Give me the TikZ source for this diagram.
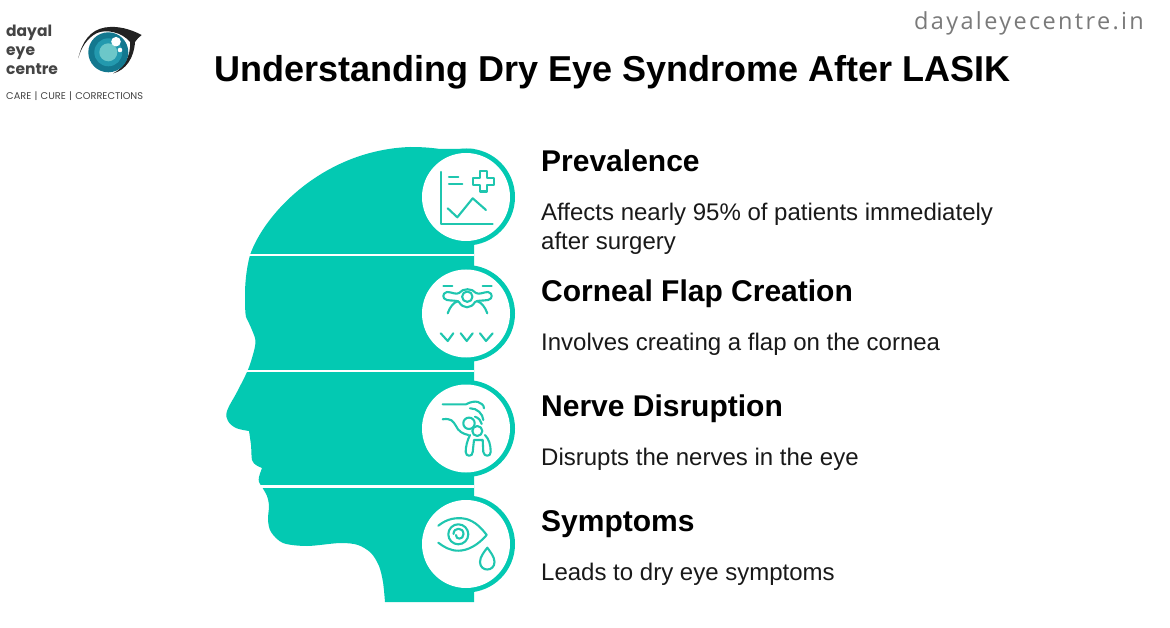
\documentclass[tikz,border=0pt]{standalone}
\usepackage{fontspec}
\setmainfont{Liberation Sans}
\newfontfamily\logofont{Poppins}
\newfontfamily\urlfont[LetterSpace=10]{Open Sans}
\definecolor{teal1}{HTML}{03C9B2}
\definecolor{iconc}{HTML}{1FC6AF}
\definecolor{urlgray}{HTML}{7A7A7A}
\definecolor{logogray}{HTML}{444444}
\definecolor{irisa}{HTML}{13788F}
\definecolor{irisb}{HTML}{2399AE}
\definecolor{irisc}{HTML}{6CC7C9}
\definecolor{lidc}{HTML}{222222}
\tikzset{
  txt/.style={inner sep=0pt,anchor=base west,align=left},
  titletxt/.style={txt,font=\fontsize{36}{40}\selectfont\bfseries,text=black},
  headtxt/.style={txt,font=\fontsize{30}{32}\selectfont\bfseries,text=black},
  bodytxt/.style={txt,font=\fontsize{24}{29}\selectfont,text=black!90},
  logotxt/.style={txt,font=\fontsize{15.5}{18}\logofont\selectfont\bfseries,text=logogray},
  ring/.style={circle,fill=teal1,minimum size=97pt,inner sep=0pt,draw=none},
  disc/.style={circle,fill=white,minimum size=88pt,inner sep=0pt,draw=none},
  ic/.style={draw=iconc,line width=2.1pt,line cap=round,line join=round},
  cut/.style={draw=white,line width=2.6pt}
}
\begin{document}
\begin{tikzpicture}[x=1pt,y=-1pt]
\useasboundingbox[fill=white] (0,0) rectangle (1170,628);
% head
\fill[teal1] (474,149) -- (440,149) .. controls (430,147.5) and (420,147) .. (410,147) .. controls (325,150) and (265,212) .. (250,255) .. controls (246,270) and (245,285) .. (245,295) .. controls (245,305) and (245,312) .. (246,317)
  -- plot[smooth,tension=0.6] coordinates {(246,317) (252,330) (255.5,342) (252,358) (247,372) (237,392) (227,411) (228,421) (236,428) (249,431)}
  -- plot[smooth,tension=0.5] coordinates {(249,431) (251,445) (252,460) (256,465) (262,468)}
  -- plot[smooth,tension=0.5] coordinates {(262,468) (259,477) (259,482) (262,487) (267,496) (269,506) (268,520) (271,532) (283,543) (307,546) (340,543) (358,545) (371,553) (379,566) (383,582) (385,602)}
  -- (474,602) -- cycle;
% cut lines
\draw[cut] (230,255) -- (474,255);
\draw[cut] (230,371) -- (474,371);
\draw[cut] (230,486.5) -- (474,486.5);
% rings
\node[ring] (ring1) at (466.5,197) {};
\node[ring] (ring2) at (466.5,313.5) {};
\node[ring] (ring3) at (466.5,428.5) {};
\node[ring] (ring4) at (466.5,544) {};
\node[disc] (disc1) at (466,197) {};
\node[disc] (disc2) at (466,313.5) {};
\node[disc] (disc3) at (466,428.5) {};
\node[disc] (disc4) at (466,544) {};
% icon 1
\draw[ic] (440.7,172) -- (440.7,224) -- (492.7,224);
\draw[ic] (449,177.3) -- (458.3,177.3) (449,184.3) -- (462.3,184.3);
\draw[ic] (479.8,171) -- (486.8,171) -- (486.8,177.8) -- (493.8,177.8) -- (493.8,184.8) -- (486.8,184.8) -- (486.8,191.5) -- (479.8,191.5) -- (479.8,184.8) -- (472.8,184.8) -- (472.8,177.8) -- (479.8,177.8) -- cycle;
\draw[ic] (447.7,208.3) -- (457.3,217.3) -- (472.7,198.3) -- (486,210);
% icon 2
\draw[ic] (443.3,285.7) -- (452.3,285.7) (482.7,285.7) -- (491.7,285.7);
\draw[ic] (467.3,296.7) circle (5.2);
\draw[ic] (447,292) .. controls (452,292) and (456,295) .. (459,293) .. controls (463,288) and (472,288) .. (476,293) .. controls (479,295) and (484,292) .. (488,292) .. controls (493,293) and (493,299) .. (488,300) .. controls (482,301) and (478,300) .. (475,302) .. controls (471,309) and (463,309) .. (459,302) .. controls (456,300) and (452,301) .. (447,300) .. controls (442,299) and (442,293) .. (447,292) -- cycle;
\draw[ic] (447.7,313.3) .. controls (450,307) and (453,303) .. (458,301);
\draw[ic] (487.3,313.3) .. controls (485,307) and (482,303) .. (477,301);
\draw[ic] (440.7,333.3) -- (447.7,341) -- (453.3,333.3);
\draw[ic] (460.7,333.3) -- (466.7,341) -- (472.7,333.3);
\draw[ic] (480,333.3) -- (486,341) -- (492.7,333.3);
% icon 3
\draw[ic] (442.7,404.3) -- (466,404.3) .. controls (470,402) and (475,401) .. (478,402) .. controls (481,403) and (484,405) .. (484,408.3);
\draw[ic] (470,408.3) .. controls (477,408) and (483,414) .. (483.3,420);
\draw[ic] (475,416.7) .. controls (479,418) and (481,421) .. (481.7,424);
\draw[ic] (442.7,419.3) .. controls (451,418) and (453,421) .. (456,426) .. controls (458,431) and (463,434) .. (468.3,435);
\draw[ic] (469,423.3) circle (5.7);
\draw[ic] (477.3,431) circle (5);
\draw[ic] (470,435) .. controls (467,441) and (465.7,447) .. (465.7,452) .. controls (465.7,457) and (472.7,457) .. (472.7,452) -- (474,440) -- (482.7,440) -- (483.3,452) .. controls (484,457) and (490.7,457) .. (490.7,452) .. controls (490.7,445) and (489,439) .. (485,435);
% icon 4
\draw[ic] (438.3,525.7) .. controls (448,518) and (456,518) .. (462,518.3) .. controls (472,519) and (480,526) .. (486.7,535) .. controls (478,545) and (468,550.7) .. (458.3,550.7) .. controls (450,550.7) and (444,547) .. (438.3,542.7);
\draw[ic] (458.3,534.3) circle (10);
\draw[ic] (453.5,534) .. controls (453.5,527) and (463.5,527) .. (463.5,534) .. controls (463.5,540) and (455.5,540) .. (456,535);
\draw[ic] (487.3,547.7) .. controls (484,552) and (480,557) .. (480,562) .. controls (480,572) and (494.5,572) .. (494.5,562) .. controls (494.5,557) and (490.5,552) .. (487.3,547.7) -- cycle;
% logo
\fill[lidc] (78.3,58.3) .. controls (82,42) and (90,30) .. (105,27.5) .. controls (118,25.5) and (130,29) .. (141.7,35) .. controls (139,37) and (137,39) .. (135,42) .. controls (134,58) and (126,70) .. (113,73.5) .. controls (124,68) and (131,56) .. (130,42) .. controls (122,32) and (106,29) .. (97,33) .. controls (87,38) and (81,48) .. (78.3,58.3) -- cycle;
\fill[irisa] (108.3,52.3) circle (20);
\fill[irisb] (108.3,52.3) circle (14);
\fill[irisc] (108.3,52.3) circle (9);
\fill[white] (116,41.7) circle (4.8);
\fill[white] (120,50) circle (2.3);
\node[logotxt] (logo1) at (6,37) {dayal};
\node[logotxt] (logo2) at (6,56) {eye};
\node[logotxt] (logo3) at (6,74.5) {centre};
\node[txt,font=\fontsize{9.8}{11}\logofont\selectfont,text=logogray] (logo4) at (6,99.5) {CARE\,\,|\,\,CURE\,\,|\,\,CORRECTIONS};
% url
\node[txt,font=\fontsize{23.5}{26}\urlfont\selectfont,text=urlgray] (url) at (914,30) {dayaleyecentre.in};
% texts
\node[titletxt] (title) at (214,81.5) {Understanding Dry Eye Syndrome After LASIK};
\node[headtxt] (h1) at (541,171.5) {Prevalence};
\node[bodytxt] (b1) at (541,249.5) {Affects nearly 95\% of patients immediately\\after surgery};
\node[headtxt] (h2) at (541,301.5) {Corneal Flap Creation};
\node[bodytxt] (b2) at (541,350) {Involves creating a flap on the cornea};
\node[headtxt] (h3) at (541,416.5) {Nerve Disruption};
\node[bodytxt] (b3) at (541,465) {Disrupts the nerves in the eye};
\node[headtxt] (h4) at (541,531.5) {Symptoms};
\node[bodytxt] (b4) at (541,580) {Leads to dry eye symptoms};
\end{tikzpicture}
\end{document}
